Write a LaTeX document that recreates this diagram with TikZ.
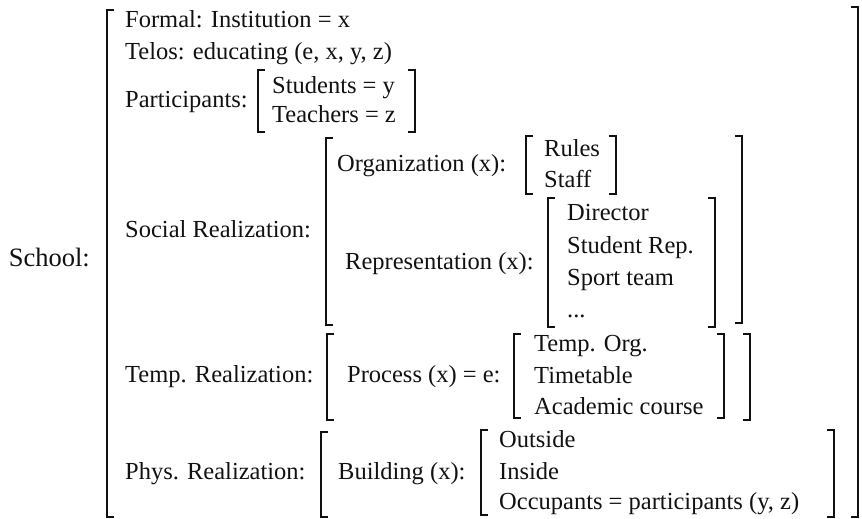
\documentclass[tikz,border=0pt]{standalone}
\usepackage{fontspec}
\setmainfont{Liberation Serif}
\usepackage{xcolor}
\definecolor{ink}{HTML}{111111}
\tikzset{
  lbl/.style={font=\fontsize{24.5}{26}\selectfont, text=ink, inner sep=0pt, anchor=base west},
  headlbl/.style={lbl, font=\fontsize{26.5}{28}\selectfont, anchor=base east},
  brak/.style={draw=ink, line width=1.3pt}
}
\newcommand{\lbrak}[3]{\draw[brak] (#1+7,#2) -- (#1,#2) -- (#1,#3) -- (#1+7,#3);}
\newcommand{\rbrak}[3]{\draw[brak] (#1-7,#2) -- (#1,#2) -- (#1,#3) -- (#1-7,#3);}

\begin{document}
\begin{tikzpicture}[x=1pt,y=1pt]
\useasboundingbox (0,0) rectangle (862,519);

\node[headlbl] (school) at (90,252) {School:};
\lbrak{107}{509}{2}
\rbrak{858}{512}{2}

\node[lbl] (formal) at (125,491) {Formal: Institution = x};
\node[lbl] (telos) at (125,459) {Telos: educating (e, x, y, z)};

\node[lbl] (part) at (125,411) {Participants:};
\lbrak{258}{449}{387}
\node[lbl] (students) at (272,425) {Students = y};
\node[lbl] (teachers) at (272,396) {Teachers = z};
\rbrak{415}{449}{387}

\node[lbl] (social) at (125,281) {Social Realization:};
\lbrak{326}{381}{194}
\rbrak{742}{383}{196}

\node[lbl] (org) at (337,347) {Organization (x):};
\lbrak{526}{383}{325}
\node[lbl] (rules) at (544,362) {Rules};
\node[lbl] (staff) at (544,331) {Staff};
\rbrak{616}{383}{325}

\node[lbl] (repr) at (345,249) {Representation (x):};
\lbrak{548}{321}{192}
\node[lbl] (director) at (567,298) {Director};
\node[lbl] (studrep) at (567,265) {Student Rep.};
\node[lbl] (sport) at (567,233) {Sport team};
\node[lbl] (etc) at (567,201) {...};
\rbrak{715}{321}{192}

\node[lbl] (temp) at (125,136) {Temp. Realization:};
\lbrak{327}{185}{99}
\node[lbl] (process) at (347,136) {Process (x) = e:};
\lbrak{514}{185}{101}
\node[lbl] (temporg) at (534,167) {Temp. Org.};
\node[lbl] (timetable) at (534,135) {Timetable};
\node[lbl] (course) at (534,104) {Academic course};
\rbrak{724}{185}{101}
\rbrak{750}{185}{99}

\node[lbl] (phys) at (125,39) {Phys. Realization:};
\lbrak{321}{87}{2}
\node[lbl] (building) at (338,39) {Building (x):};
\lbrak{481}{89}{4}
\node[lbl] (outside) at (499,71) {Outside};
\node[lbl] (inside) at (499,39) {Inside};
\node[lbl] (occupants) at (499,9) {Occupants = participants (y, z)};
\rbrak{834}{89}{2}

\end{tikzpicture}
\end{document}
